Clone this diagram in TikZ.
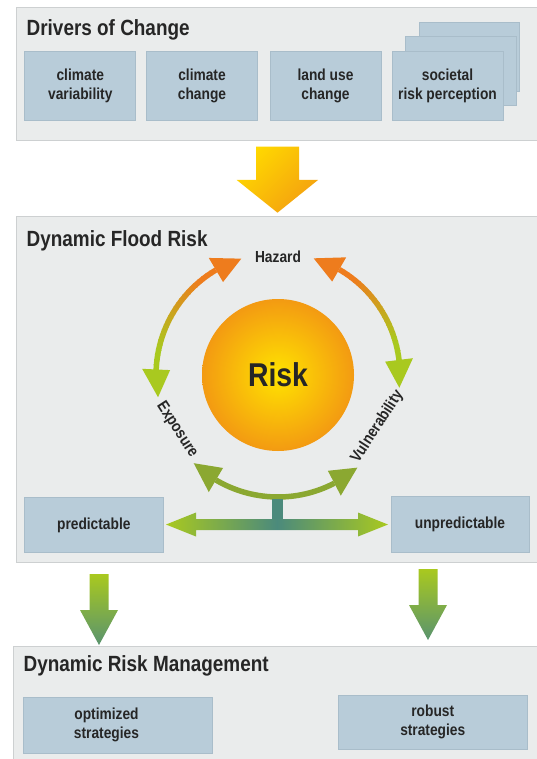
\documentclass[tikz,border=0pt]{standalone}
\usepackage{fontspec}
\setmainfont{Liberation Sans}[FakeStretch=0.86]
\usetikzlibrary{calc}
\definecolor{panelgray}{HTML}{EAECEC}
\definecolor{panelline}{HTML}{CDD0D1}
\definecolor{boxblue}{HTML}{B8CCD9}
\definecolor{boxline}{HTML}{A9BDCA}
\definecolor{txt}{HTML}{262626}
\definecolor{sunyellow}{HTML}{FFE300}
\definecolor{sunorange}{HTML}{F39A12}
\definecolor{hazorange}{HTML}{EE7C1D}
\definecolor{limegreen}{HTML}{A9C91F}
\definecolor{olivegreen}{HTML}{8BA831}
\definecolor{tealgreen}{HTML}{4B8A7C}
\definecolor{arrowyellow}{HTML}{FFD800}
\definecolor{arroworange}{HTML}{F4A010}
\newcommand\ringhead[3]{\fill[#3] (#1:122) -- ({#1+#2}:136) -- ({#1+#2}:108) -- cycle;}
\begin{document}
\begin{tikzpicture}[x=1pt, y=1pt, text=txt,
  panel/.style={fill=panelgray, draw=panelline, line width=1pt},
  title/.style={anchor=base west, inner sep=0pt, font=\fontsize{22}{26}\selectfont\bfseries},
  box/.style={rectangle, fill=boxblue, draw=boxline, line width=0.8pt, align=center, inner sep=0pt, font=\fontsize{16}{19}\selectfont\bfseries},
  ring label/.style={inner sep=0pt, font=\fontsize{16}{19}\selectfont\bfseries},
  ring line/.style={line width=5.5pt, line cap=butt}]
\useasboundingbox (0,0) rectangle (536,-759);
%panels
\draw[panel] (16,-7.5) rectangle (560,-141);
\draw[panel] (16,-216) rectangle (560,-562);
\draw[panel] (13.7,-646) rectangle (560,-780);
\node[title] (drivers) at (26.5,-36) {Drivers of Change};
\node[title] (flood) at (26.5,-246.5) {Dynamic Flood Risk};
\node[title] (mgmt) at (23.5,-671) {Dynamic Risk Management};
%drivers
\begin{scope}[every node/.style={box, minimum width=111pt, minimum height=69pt}]
\node (cv) at (80.3,-85.5) {climate\\variability};
\node (cc) at (202,-85.5) {climate\\change};
\node (lu) at (325.5,-85.5) {land use\\change};
\node[minimum width=100pt] (back2) at (469,-57) {};
\node (back1) at (461,-71) {};
\node (srp) at (447.5,-85.5) {societal\\risk perception};
\end{scope}
\shade[top color=arrowyellow, bottom color=arroworange, shading angle=45]
  (256,-146.7) -- (299,-146.7) -- (299,-180) -- (318,-180) -- (277.5,-212.7)
  -- (236.7,-180) -- (256,-180) -- cycle;
%risk circle
\node[circle, minimum size=152pt, inner sep=0pt, inner color=sunyellow, outer color=sunorange,
  font=\fontsize{33}{36}\selectfont\bfseries] (risk) at (278,-375) {Risk};
\begin{scope}[shift={(risk.center)}]
\foreach \i in {0,...,23}{
  \pgfmathsetmacro{\p}{max(0,min(100,(1-\i/23)*140-20))}
  \pgfmathsetmacro{\a}{120.6+56.8*\i/24}
  \pgfmathsetmacro{\b}{120.6+56.8*(\i+1)/24+0.4}
  \draw[ring line, draw=hazorange!\p!limegreen] (\a:122) arc[start angle=\a, end angle=\b, radius=122];
  \pgfmathsetmacro{\a}{59.9-52.8*\i/24}
  \pgfmathsetmacro{\b}{59.9-52.8*(\i+1)/24-0.4}
  \draw[ring line, draw=hazorange!\p!limegreen] (\a:122) arc[start angle=\a, end angle=\b, radius=122];
}
\draw[ring line, draw=olivegreen] (239.4:122) arc[start angle=239.4, end angle=297.5, radius=122];
\ringhead{107.5}{13.1}{hazorange}
\ringhead{190.5}{-13.1}{limegreen}
\ringhead{73}{-13.1}{hazorange}
\ringhead{-6}{13.1}{limegreen}
\ringhead{226.3}{13.1}{olivegreen}
\ringhead{310.6}{-13.1}{olivegreen}
\node[ring label] (hazard) at (90:118) {Hazard};
\node[ring label, rotate=-57] (exposure) at (208.5:115) {Exposure};
\node[ring label, rotate=57] (vulner) at (-27.5:112) {Vulnerability};
\fill[tealgreen] (-6,-124) rectangle (5,-151);
\end{scope}
%predictability
\begin{scope}[every node/.style={box}]
\node[minimum width=138.4pt, minimum height=54.5pt] (pred) at (93.8,-525) {predictable};
\node[minimum width=138pt, minimum height=56pt] (unpred) at (460,-524) {unpredictable};
\end{scope}
\begin{scope}[shift={($(pred.east)!0.5!(unpred.west)$)}]
\shade[left color=limegreen, right color=limegreen, middle color=tealgreen]
  (-111,0) -- (-81,12) -- (-81,5.5) -- (81,5.5) -- (81,12) -- (111,0)
  -- (81,-12) -- (81,-5.5) -- (-81,-5.5) -- (-81,-12) -- cycle;
\end{scope}
\foreach \x/\t in {99/574, 428/569}{
  \shade[top color=limegreen, bottom color=tealgreen!85!limegreen]
    (\x-9.5,-\t) -- (\x+9.5,-\t) -- (\x+9.5,-\t-36) -- (\x+19,-\t-36)
    -- (\x,-\t-71) -- (\x-19,-\t-36) -- (\x-9.5,-\t-36) -- cycle;
}
%management
\begin{scope}[every node/.style={box}]
\node[minimum width=189pt, minimum height=56pt,
  label={[xshift=-11pt, inner sep=0pt, align=center, font=\fontsize{16}{19}\selectfont\bfseries]center:optimized\\strategies}] (opt) at (117.5,-725) {};
\node[minimum width=188.5pt, minimum height=54pt] (robust) at (432.75,-722) {robust\\strategies};
\end{scope}
\end{tikzpicture}
\end{document}
